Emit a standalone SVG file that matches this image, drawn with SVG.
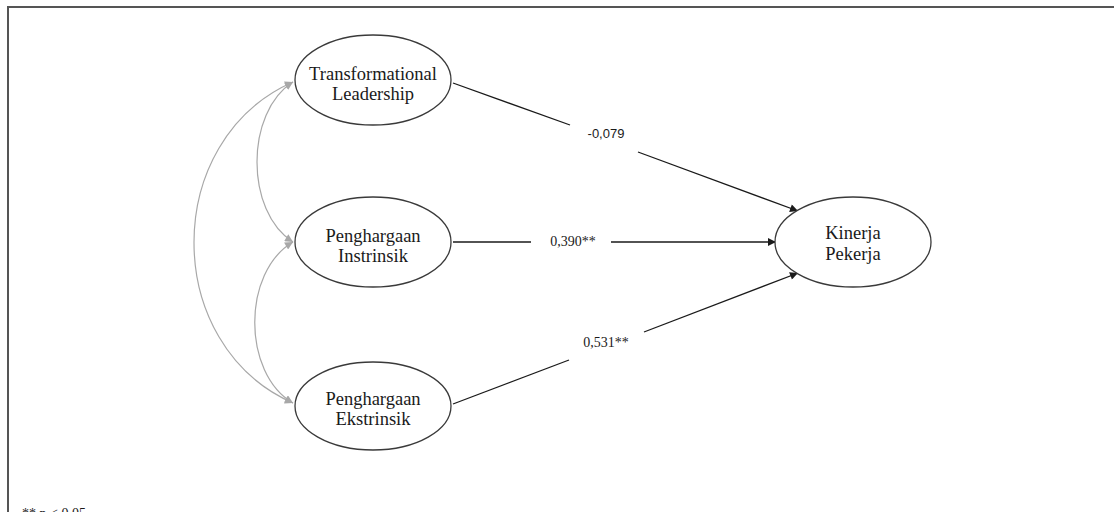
<svg xmlns="http://www.w3.org/2000/svg" width="1114" height="512" viewBox="0 0 1114 512">
  <style>
    .node ellipse { fill: #ffffff; stroke: #3a3a3a; stroke-width: 1.3; }
    .node text { font-family: "Liberation Serif", "Times New Roman", serif; font-size: 18.5px; fill: #1a1a1a; text-anchor: middle; }
    .path { fill: none; stroke: #1a1a1a; stroke-width: 1.3; }
    .cov { fill: none; stroke: #a8a8a8; stroke-width: 1.2; }
    .coef { font-family: "Liberation Serif", "Times New Roman", serif; font-size: 14px; fill: #1a1a1a; text-anchor: middle; }
    .coef-sans { font-family: "Liberation Sans", Arial, sans-serif; font-size: 13px; fill: #1a1a1a; text-anchor: middle; }
    .frame { fill: none; stroke: #555555; stroke-width: 2; }
    .note { font-family: "Liberation Serif", "Times New Roman", serif; font-size: 14px; fill: #1a1a1a; }
  </style>
  <defs>
    <marker id="arrow" viewBox="0 0 10 10" refX="10" refY="5" markerWidth="9" markerHeight="8" markerUnits="userSpaceOnUse" orient="auto">
      <path d="M0,0 L10,5 L0,10 Z" fill="#1a1a1a"/>
    </marker>
    <marker id="arrow-grey" viewBox="0 0 10 10" refX="10" refY="5" markerWidth="9" markerHeight="8" markerUnits="userSpaceOnUse" orient="auto-start-reverse">
      <path d="M0,0 L10,5 L0,10 Z" fill="#a8a8a8"/>
    </marker>
  </defs>

  <rect width="1114" height="512" fill="#ffffff"/>

  <!-- outer frame (top and left edges) -->
  <path class="frame" d="M8,513 L8,7 L1115,7"/>

  <!-- connectors -->
  <g id="connectors">
    <!-- correlations between predictors -->
    <path class="cov" d="M293,82 C161,140 161,345 293,403" marker-start="url(#arrow-grey)" marker-end="url(#arrow-grey)"/>
    <path class="cov" d="M293,82 C245,112 245,212 293,242" marker-start="url(#arrow-grey)" marker-end="url(#arrow-grey)"/>
    <path class="cov" d="M293,242 C242,272 242,373 293,403" marker-start="url(#arrow-grey)" marker-end="url(#arrow-grey)"/>

    <!-- Transformational Leadership -> Kinerja Pekerja -->
    <path class="path" d="M453,83 L570,125"/>
    <path class="path" d="M638,152 L798,211" marker-end="url(#arrow)"/>
    <text class="coef-sans" x="606" y="138">-0,079</text>

    <!-- Penghargaan Instrinsik -> Kinerja Pekerja -->
    <path class="path" d="M453,242 L531,242"/>
    <path class="path" d="M611,242 L776,242" marker-end="url(#arrow)"/>
    <text class="coef" x="573" y="246">0,390**</text>

    <!-- Penghargaan Ekstrinsik -> Kinerja Pekerja -->
    <path class="path" d="M453,404 L569,360"/>
    <path class="path" d="M644,332 L798,273" marker-end="url(#arrow)"/>
    <text class="coef" x="606" y="347">0,531**</text>
  </g>

  <g id="node-transformational" class="node">
    <ellipse cx="373" cy="80" rx="78" ry="45"/>
    <text x="373" y="80">Transformational</text>
    <text x="373" y="100">Leadership</text>
  </g>

  <g id="node-instrinsik" class="node">
    <ellipse cx="373" cy="242" rx="78" ry="45"/>
    <text x="373" y="242">Penghargaan</text>
    <text x="373" y="262">Instrinsik</text>
  </g>

  <g id="node-ekstrinsik" class="node">
    <ellipse cx="373" cy="406" rx="78" ry="44"/>
    <text x="373" y="405">Penghargaan</text>
    <text x="373" y="425">Ekstrinsik</text>
  </g>

  <g id="node-kinerja" class="node">
    <ellipse cx="853" cy="242" rx="78" ry="45"/>
    <text x="853" y="239">Kinerja</text>
    <text x="853" y="260">Pekerja</text>
  </g>

  <!-- significance note, running past the lower edge -->
  <text class="note" x="22" y="518">** p &lt; 0,05</text>
</svg>
